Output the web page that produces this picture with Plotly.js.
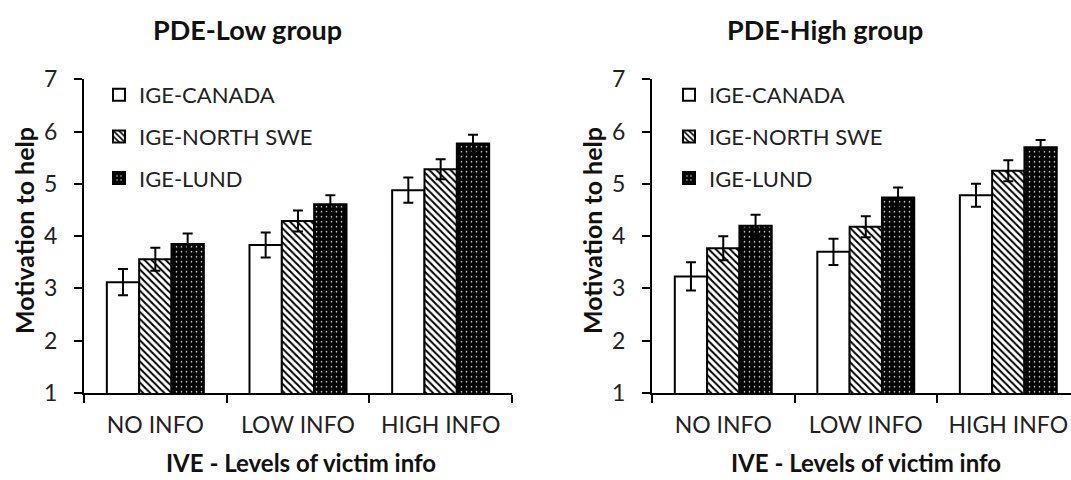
<!DOCTYPE html>
<html>
<head>
<meta charset="utf-8">
<script src="https://cdn.plot.ly/plotly-3.0.1.min.js"></script>
<style>html,body{margin:0;padding:0;background:#fff;}#chart{width:1071px;height:480px;}</style>
</head>
<body>
<div id="chart"></div>
<script>
// ---- data ----
const categories = ['NO INFO', 'LOW INFO', 'HIGH INFO'];
const seriesNames = ['IGE-CANADA', 'IGE-NORTH SWE', 'IGE-LUND'];
const panelTitles = ['PDE-Low group', 'PDE-High group'];
const yTitle = 'Motivation to help';
const xTitle = 'IVE - Levels of victim info';
const yTicks = [1, 2, 3, 4, 5, 6, 7];

const lowCanada = [3.12, 3.83, 4.88];
const lowCanadaErr = [0.25, 0.24, 0.24];
const lowNorth = [3.56, 4.29, 5.28];
const lowNorthErr = [0.22, 0.20, 0.19];
const lowLund = [3.85, 4.61, 5.77];
const lowLundErr = [0.20, 0.17, 0.17];

const highCanada = [3.23, 3.70, 4.78];
const highCanadaErr = [0.27, 0.25, 0.22];
const highNorth = [3.77, 4.18, 5.25];
const highNorthErr = [0.23, 0.20, 0.20];
const highLund = [4.20, 4.74, 5.70];
const highLundErr = [0.21, 0.19, 0.14];

// ---- styling ----
const FONT = "Lato, 'Liberation Sans', sans-serif";
const styles = [
  {color: 'white', pattern: {shape: ''}},
  {color: 'white', pattern: {shape: '\\', fgcolor: 'black', bgcolor: 'white', size: 5, solidity: 0.4}},
  {color: 'black', pattern: {shape: '.', fgcolor: 'white', bgcolor: 'black', size: 5, solidity: 0.08}}
];

function makeTrace(i, y, err, xa, ya, leg) {
  return {
    type: 'bar', x: categories, y: y, name: seriesNames[i],
    xaxis: xa, yaxis: ya, legend: leg, legendgroup: leg + i,
    marker: {color: styles[i].color, line: {color: 'black', width: 2}, pattern: styles[i].pattern},
    error_y: {type: 'data', array: err, visible: true, color: 'black', thickness: 2, width: 5},
    hoverinfo: 'skip'
  };
}

const data = [
  makeTrace(0, lowCanada, lowCanadaErr, 'x', 'y', 'legend'),
  makeTrace(1, lowNorth, lowNorthErr, 'x', 'y', 'legend'),
  makeTrace(2, lowLund, lowLundErr, 'x', 'y', 'legend'),
  makeTrace(0, highCanada, highCanadaErr, 'x2', 'y2', 'legend2'),
  makeTrace(1, highNorth, highNorthErr, 'x2', 'y2', 'legend2'),
  makeTrace(2, highLund, highLundErr, 'x2', 'y2', 'legend2')
];

const W = 1071, H = 480;
const yDom = [87 / H, 400.7 / H];
function xAxis(domain, range, anchor) {
  return {
    domain: domain, range: range, type: 'category', anchor: anchor, fixedrange: true,
    showline: true, linecolor: 'black', linewidth: 2, mirror: false,
    ticks: 'outside', tickson: 'boundaries', ticklen: 8, tickwidth: 2, tickcolor: 'black',
    ticklabelstandoff: 10,
    showgrid: false, zeroline: false,
    tickfont: {family: FONT, size: 23, color: '#222'}
  };
}
function yAxis(anchor) {
  return {
    domain: yDom, range: [1, 7], anchor: anchor, fixedrange: true,
    tickvals: yTicks, showline: true, linecolor: 'black', linewidth: 2,
    ticks: 'outside', ticklen: 8, tickwidth: 2, tickcolor: 'black',
    ticklabelstandoff: 12,
    showgrid: false, zeroline: false,
    tickfont: {family: FONT, size: 23, color: '#222'}
  };
}
function legendCfg(xpx) {
  return {
    x: xpx / W, y: 1 - 74 / H, xanchor: 'left', yanchor: 'top',
    bgcolor: 'rgba(0,0,0,0)', borderwidth: 0,
    font: {family: FONT, size: 22, color: '#222'},
    tracegroupgap: 10, itemwidth: 30, traceorder: 'grouped'
  };
}

const annFont = {family: FONT, size: 27, color: '#111', weight: 'bold'};
const axFont = {family: FONT, size: 25, color: '#111', weight: 'bold'};
const xtFont = {family: FONT, size: 24, color: '#111', weight: 'bold'};
const annotations = [
  {text: '<b>' + panelTitles[0] + '</b>', x: 247.5 / W, y: 1 - 29 / H, font: annFont},
  {text: '<b>' + panelTitles[1] + '</b>', x: 825 / W, y: 1 - 29 / H, font: annFont},
  {text: '<b>' + yTitle + '</b>', x: 24 / W, y: 1 - 231 / H, textangle: -90, font: axFont},
  {text: '<b>' + yTitle + '</b>', x: 592 / W, y: 1 - 231 / H, textangle: -90, font: axFont},
  {text: '<b>' + xTitle + '</b>', x: 301 / W, y: 1 - 462 / H, font: xtFont},
  {text: '<b>' + xTitle + '</b>', x: 866 / W, y: 1 - 462 / H, font: xtFont}
].map(a => Object.assign({xref: 'paper', yref: 'paper', showarrow: false, xanchor: 'center', yanchor: 'middle'}, a));

const layout = {
  width: W, height: H,
  margin: {l: 0, r: 0, t: 0, b: 0},
  paper_bgcolor: 'white', plot_bgcolor: 'white',
  font: {family: FONT, color: '#222'},
  barmode: 'group', bargap: 0.32, bargroupgap: 0,
  xaxis: xAxis([84 / W, 512 / W], [-0.5, 2.5], 'y'),
  yaxis: yAxis('x'),
  xaxis2: xAxis([652 / W, 1], [-0.5, 2.44], 'y2'),
  yaxis2: yAxis('x2'),
  legend: legendCfg(99),
  legend2: legendCfg(669),
  showlegend: true,
  annotations: annotations
};

Plotly.newPlot('chart', data, layout, {staticPlot: true, displayModeBar: false});
</script>
</body>
</html>
